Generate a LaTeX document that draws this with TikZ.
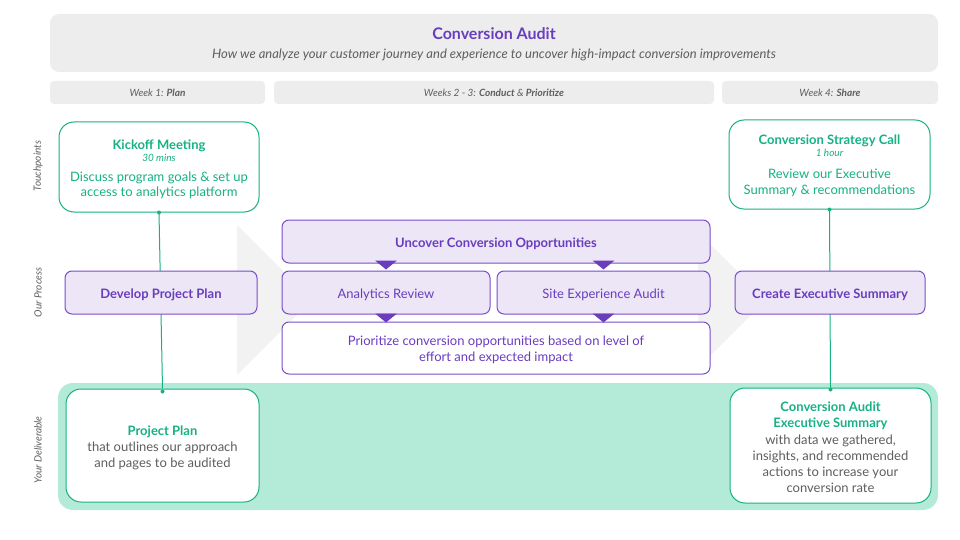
\documentclass[tikz,border=0pt]{standalone}
\usepackage{fontspec}
\setmainfont{Lato}
\usetikzlibrary{calc}
\definecolor{hdrgray}{HTML}{EDEDED}
\definecolor{txtgray}{HTML}{5E5E5E}
\definecolor{brandpurple}{HTML}{6A3DBE}
\definecolor{procfill}{HTML}{ECE6F6}
\definecolor{procline}{HTML}{7A4DCB}
\definecolor{brandgreen}{HTML}{17B184}
\definecolor{bandgreen}{HTML}{B4EAD8}
\definecolor{chevgray}{HTML}{F2F2F2}
\pgfdeclarelayer{bg}
\pgfdeclarelayer{lines}
\pgfsetlayers{bg,lines,main}
\newcommand{\fs}[2]{\fontsize{#1}{#2}\selectfont}
\newcommand{\smallnote}[1]{{\fs{10}{11}\itshape #1}}
\tikzset{
  weekbar/.style={fill=hdrgray, rounded corners=4pt, minimum height=23pt,
    inner sep=0pt, text=txtgray, font=\fs{10}{12}\itshape, text height=9.5pt, text depth=2pt},
  rowlabel/.style={rotate=90, text=txtgray, font=\fs{10}{12}\itshape},
  touchbox/.style={draw=brandgreen, line width=1pt, fill=white, rounded corners=15pt, inner sep=0pt},
  touchtext/.style={text=brandgreen, align=center, inner sep=0pt, font=\fs{13}{15.5}},
  procbox/.style={draw=procline, line width=1pt, fill=procfill, rounded corners=7pt,
    text=brandpurple, align=center, inner sep=0pt, minimum height=43pt,
    text height=13pt, text depth=2pt},
  proctext/.style={text=brandpurple, align=center, inner sep=0pt, font=\fs{13}{16}},
  delivbox/.style={draw=brandgreen, line width=1pt, fill=white, rounded corners=15pt, inner sep=0pt},
  delivtext/.style={text=txtgray, align=center, inner sep=0pt, font=\fs{13}{16.2}},
  link/.style={draw=brandgreen, line width=1pt},
  pointer/.style={fill=brandpurple},
}
\begin{document}
\begin{tikzpicture}[x=1pt, y=-1pt]
\useasboundingbox (0,0) rectangle (960,540);

% background chevrons and the deliverable band
\begin{pgfonlayer}{bg}
  \fill[chevgray] (237,225) -- (312,300) -- (237,375) -- cycle;
  \fill[chevgray] (698,232) -- (766,300) -- (698,368) -- cycle;
  \fill[bandgreen, rounded corners=15pt] (58,383) rectangle (938,510);
\end{pgfonlayer}

% header
\node[fill=hdrgray, rounded corners=9pt, minimum width=888pt, minimum height=58pt,
  inner sep=0pt] (hdr) at (494,43) {};
\node[text=brandpurple, font=\fs{16}{19}\bfseries] (title) at (494,33.5) {Conversion Audit};
\node[text=txtgray, font=\fs{13}{15}\itshape] (sub) at (494,55)
  {How we analyze your customer journey and experience to uncover high-impact conversion improvements};

% week bars
\node[weekbar, minimum width=215pt] (w1) at (157.5,92.5) {Week 1: \textbf{Plan}};
\node[weekbar, minimum width=440pt] (w2) at (494,92.5) {Weeks 2 - 3: \textbf{Conduct} \& \textbf{Prioritize}};
\node[weekbar, minimum width=216pt] (w4) at (830,92.5) {Week 4: \textbf{Share}};

% row labels
\node[rowlabel] (r1) at (38,166) {Touchpoints};
\node[rowlabel] (r2) at (38,292.5) {Our Process};
\node[rowlabel] (r3) at (38,450) {Your Deliverable};

% touchpoints
\node[touchbox, minimum width=200pt, minimum height=90pt] (kick) at (159,167) {};
\node[touchtext] (kicktxt) at ([yshift=-2.5pt]kick.center)
  {\textbf{Kickoff Meeting}\\[-3.5pt]
   \smallnote{30 mins}\\[5pt]
   Discuss program goals \& set up\\[-0.5pt]
   access to analytics platform};
\node[touchbox, minimum width=201pt, minimum height=89pt] (call) at (829.5,164.5) {};
\node[touchtext] (calltxt) at ([yshift=-1.5pt]call.center)
  {\textbf{Conversion Strategy Call}\\[-3.5pt]
   \smallnote{1 hour}\\[6.5pt]
   Review our Executive\\[0.5pt]
   Summary \& recommendations};

% process
\node[procbox, minimum width=192pt, font=\fs{13}{15}\bfseries] (dpp) at (161,292.5) {Develop Project Plan};
\node[procbox, minimum width=428pt, font=\fs{13}{15}\bfseries] (unc) at (496,241.5) {Uncover Conversion Opportunities};
\node[procbox, minimum width=208pt, font=\fs{13}{15}] (ar) at (386,292.5) {Analytics Review};
\node[procbox, minimum width=213pt, font=\fs{13}{15}] (sea) at (603.5,292.5) {Site Experience Audit};
\node[procbox, fill=white, minimum width=428pt, minimum height=52pt] (prio) at (496,348) {};
\node[proctext] (priotxt) at ([yshift=-2pt]prio.center)
  {Prioritize conversion opportunities based on level of\\effort and expected impact};
\node[procbox, minimum width=190pt, font=\fs{13}{15}\bfseries] (ces) at (830,292.5) {Create Executive Summary};

% flow pointers
\foreach \b in {ar, sea}{
  \fill[pointer] ([shift={(-11,-10)}]\b.north) -- ([shift={(11,-10)}]\b.north) -- ([shift={(0,-1)}]\b.north) -- cycle;
  \fill[pointer] ([shift={(-11,-1)}]\b.south) -- ([shift={(11,-1)}]\b.south) -- ([shift={(0,8)}]\b.south) -- cycle;
}

% deliverables
\node[delivbox, minimum width=193pt, minimum height=113pt] (pp) at (162.5,445.5) {};
\node[delivtext] (pptxt) at ([yshift=-2.5pt]pp.center)
  {\textcolor{brandgreen}{\bfseries Project Plan}\\
   that outlines our approach\\
   and pages to be audited};
\node[delivbox, minimum width=201pt, minimum height=115pt] (exs) at (830.5,445.5) {};
\node[delivtext] (exstxt) at ([yshift=-2pt]exs.center)
  {\textcolor{brandgreen}{\bfseries Conversion Audit}\\
   \textcolor{brandgreen}{\bfseries Executive Summary}\\
   with data we gathered,\\
   insights, and recommended\\
   actions to increase your\\
   conversion rate};

% connectors through the process row
\begin{pgfonlayer}{lines}
  \draw[link] (kick.south) -- (pp.north);
  \draw[link] (call.south) -- (exs.north);
\end{pgfonlayer}
\fill[brandgreen] (kick.south) circle (2pt);
\fill[brandgreen] ([yshift=-3pt]pp.north) circle (2pt);
\fill[brandgreen] (call.south) circle (2pt);
\fill[brandgreen] ([yshift=-2pt]exs.north) circle (2pt);
\end{tikzpicture}
\end{document}
